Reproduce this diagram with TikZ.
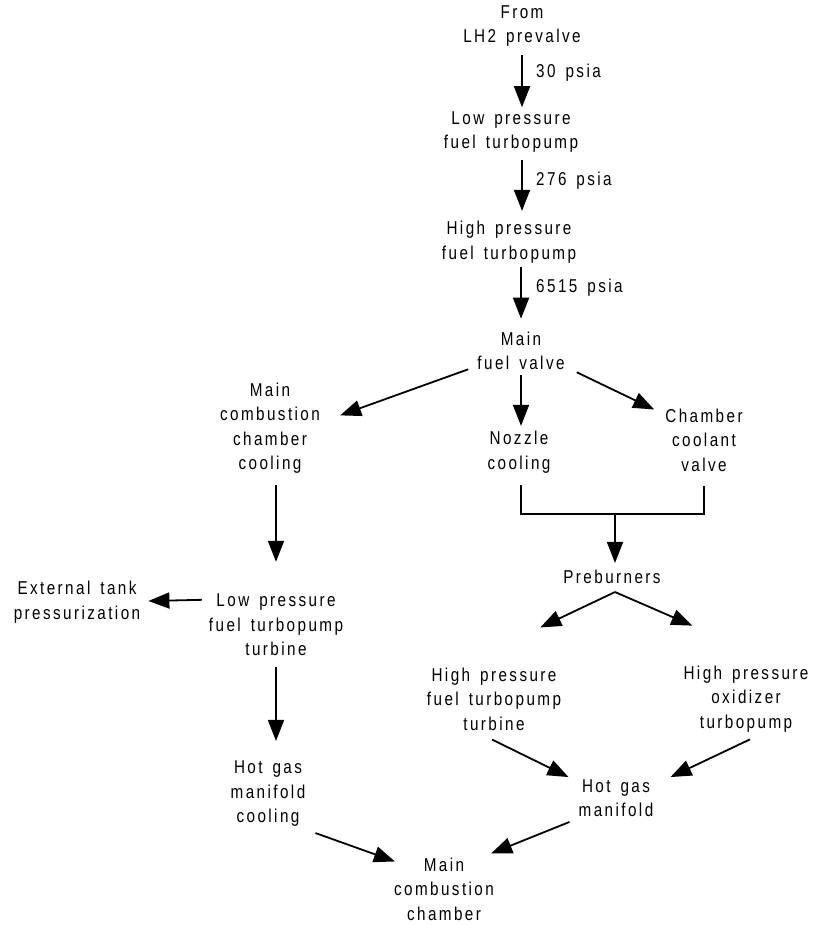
\documentclass[tikz,border=0pt]{standalone}
\usepackage{fontspec}
\setmainfont{Liberation Sans}[FakeStretch=0.82, LetterSpace=13, WordSpace=1.5]
\usetikzlibrary{arrows.meta}
\begin{document}
\begin{tikzpicture}[x=1pt,y=-1pt,
  txt/.style={align=center, inner sep=0pt, font=\fontsize{18.6}{24.5}\selectfont},
  lbl/.style={anchor=west, inner sep=0pt, font=\fontsize{18.6}{24.5}\selectfont},
  arr/.style={line width=1.8pt, -{Triangle[length=21pt,width=16pt]}},
  plain/.style={line width=1.6pt}]
\useasboundingbox (0,0) rectangle (812,925);

\node[txt] (from)    at (522,26)  {From\\LH2 prevalve};
\node[txt] (lpft)    at (511,132) {Low pressure\\fuel turbopump};
\node[txt] (hpft)    at (509,242) {High pressure\\fuel turbopump};
\node[txt] (mfv)     at (521,351) {Main\\fuel valve};
\node[txt] (mccc)    at (270,428) {Main\\combustion\\chamber\\cooling};
\node[txt] (nozzle)  at (519,452) {Nozzle\\cooling};
\node[txt] (ccv)     at (704,440) {Chamber\\coolant\\valve};
\node[txt] (preb)    at (612,577) {Preburners};
\node[txt] (lpt)     at (276,625) {Low pressure\\fuel turbopump\\turbine};
\node[txt] (ext)     at (77,602)  {External tank\\pressurization};
\node[txt] (hpfturb) at (494,699) {High pressure\\fuel turbopump\\turbine};
\node[txt] (hpox)    at (746,699) {High pressure\\oxidizer\\turbopump};
\node[txt] (hgm)     at (616,798) {Hot gas\\manifold};
\node[txt] (hgmc)    at (268,794) {Hot gas\\manifold\\cooling};
\node[txt] (mcc)     at (444,889) {Main\\combustion\\chamber};

\node[lbl] (p30)   at (536,73)  {30 psia};
\node[lbl] (p276)  at (536,181) {276 psia};
\node[lbl] (p6515) at (536,288) {6515 psia};

\coordinate (junction) at (615,514);

\draw[arr] ([yshift=-8pt]from.south) -- ([yshift=4pt]from.south |- lpft.north);
\draw[arr] ([yshift=-7pt]lpft.south -| from.south) -- ([yshift=10pt]hpft.north -| from.south);
\draw[arr] ([yshift=-4pt]hpft.south -| mfv.north) -- ([yshift=13pt]mfv.north);

\draw[arr] ([xshift=-9pt,yshift=1pt]mfv.south west) -- ([xshift=20pt,yshift=-33pt]mccc.north east);
\draw[arr] ([yshift=-5pt]mfv.south) -- ([yshift=5pt]nozzle.north -| mfv.south);
\draw[arr] ([xshift=12pt,yshift=-2pt]mfv.south east) -- ([xshift=-11pt,yshift=-1pt]ccv.north west);

\draw[plain] ([yshift=-12pt]nozzle.south -| mfv.south) |- (junction) -| ([yshift=-14pt]ccv.south);
\draw[arr] (junction) -- ([yshift=7pt]preb.north -| junction);

\draw[arr] ([yshift=-8pt]preb.south -| junction) -- ([xshift=-21pt,yshift=40pt]hpfturb.north east);
\draw[arr] ([yshift=-8pt]preb.south -| junction) -- ([xshift=9pt,yshift=40pt]hpox.north west);

\draw[arr] ([xshift=-2pt,yshift=-9pt]hpfturb.south) -- ([xshift=-10pt,yshift=2pt]hgm.north west);
\draw[arr] ([xshift=4pt,yshift=-7pt]hpox.south) -- ([xshift=17pt,yshift=2pt]hgm.north east);
\draw[arr] ([xshift=-9pt,yshift=-5pt]hgm.south west) -- ([xshift=-3pt,yshift=4pt]mcc.north east);
\draw[arr] ([xshift=10pt,yshift=-6pt]hgmc.south east) -- ([xshift=1pt,yshift=-4pt]mcc.north west);

\draw[arr] ([yshift=-11pt]mccc.south -| lpt.north) -- ([yshift=32pt]lpt.north);
\draw[arr] ([xshift=-7pt,yshift=-6pt]lpt.north west) -- ([xshift=8pt,yshift=1pt]ext.east);
\draw[arr] ([yshift=-11pt]lpt.south) -- ([yshift=20pt]hgmc.north -| lpt.south);
\end{tikzpicture}
\end{document}
